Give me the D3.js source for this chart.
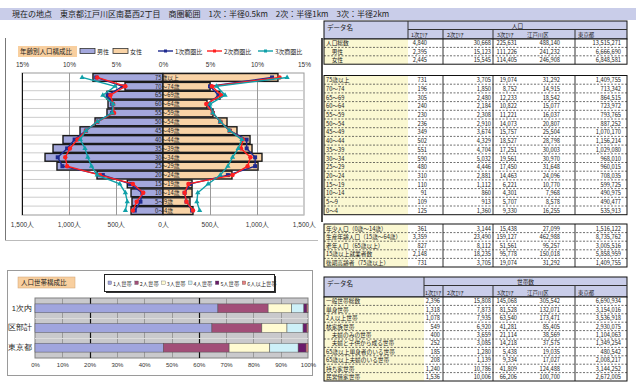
<!DOCTYPE html>
<html>
<head>
<meta charset="utf-8">
<script src="https://cdn.jsdelivr.net/npm/d3@7"></script>
<style>
body { margin: 0; background: #fff; }
svg { display: block; font-family: "Noto Sans CJK JP", "Noto Sans", sans-serif; }
</style>
</head>
<body>
<svg id="chart" width="640" height="384"></svg>
<script>
// ---- data ----
var titleText = "現在の地点　東京都江戸川区南葛西2丁目　商圏範囲　1次：半径0.5km　2次：半径1km　3次：半径2km";

var ageGroups = ["75歳以上","70～74歳","65～69歳","60～64歳","55～59歳","50～54歳","45～49歳","40～44歳",
                 "35～39歳","30～34歳","25～29歳","20～24歳","15～19歳","10～14歳","5～9歳","0～4歳"];
var maleCount   = [745, 404, 596, 585, 596, 723, 883, 1064, 1170, 1255, 1128, 702, 380, 340, 330, 340];
var femaleCount = [1223, 500, 606, 468, 532, 681, 787, 926, 947, 1053, 1011, 734, 309, 309, 287, 319];

var male1   = [7.1, 4.3, 5.9, 5.4, 5.4, 7.0, 8.2, 9.4, 10.2, 11.2, 10.7, 6.4, 3.5, 2.2, 2.4, 3.0];
var male2   = [7.0, 4.0, 5.6, 5.3, 5.2, 7.0, 8.2, 9.1, 9.9, 10.4, 10.2, 6.7, 3.2, 2.1, 2.8, 3.2];
var male3   = [8.6, 5.1, 6.4, 5.3, 5.4, 7.0, 8.2, 8.8, 8.3, 8.0, 7.6, 7.0, 4.6, 4.0, 3.8, 4.0];
var female1 = [11.6, 5.0, 5.9, 4.8, 5.3, 6.1, 7.1, 8.9, 8.9, 9.8, 9.8, 6.9, 2.9, 2.3, 2.5, 3.1];
var female2 = [12.4, 5.2, 6.2, 4.6, 5.3, 6.1, 7.1, 8.5, 8.3, 9.3, 9.0, 7.4, 2.7, 2.3, 2.5, 3.2];
var female3 = [13.2, 5.7, 6.6, 5.0, 5.3, 6.1, 7.1, 8.4, 8.0, 7.4, 6.9, 6.1, 4.8, 3.7, 3.6, 3.9];
var lineNames = ["1次商圏比", "2次商圏比", "3次商圏比"];
var pctTicks = [-15, -10, -5, 0, 5, 10, 15];
var cntTicks = [-1500, -1000, -500, 0, 500, 1000, 1500];

var hhAreas  = ["1次内", "区部計", "東京都"];
var hhSeries = ["1人世帯", "2人世帯", "3人世帯", "4人世帯", "5人世帯", "6人以上世帯"];
var hhShare1 = [67.0, 18.4, 8.6, 4.5, 1.1, 0.4];
var hhShare2 = [64.8, 18.3, 9.2, 5.9, 1.4, 0.4];
var hhShare3 = [47.0, 24.1, 14.9, 10.4, 2.9, 0.7];
var hhTicks  = [0, 10, 20, 30, 40, 50, 60, 70, 80, 90, 100];

var colHeads = ["1次ｴﾘｱ", "2次ｴﾘｱ", "3次ｴﾘｱ", "江戸川区", "東京都"];

var popLabels = ["人口総数", "　男性", "　女性"];
var popRows = [
  ["4,840", "30,668", "225,631", "488,140", "13,515,271"],
  ["2,395", "15,123", "111,226", "241,232", "6,666,690"],
  ["2,445", "15,545", "114,405", "246,908", "6,848,581"]
];

var ageLabels = ["75歳以上","70～74","65～69","60～64","55～59","50～54","45～49","40～44",
                 "35～39","30～34","25～29","20～24","15～19","10～14","5～9","0～4"];
var ageRows = [
  ["731", "3,705", "19,074", "31,292", "1,409,755"],
  ["196", "1,850", "8,752", "14,915", "713,342"],
  ["305", "2,480", "12,233", "18,542", "864,515"],
  ["240", "2,184", "10,822", "15,077", "723,972"],
  ["230", "2,308", "11,221", "16,037", "793,765"],
  ["236", "2,910", "14,073", "20,807", "887,252"],
  ["349", "3,674", "15,757", "25,504", "1,070,170"],
  ["502", "4,329", "18,527", "28,798", "1,156,214"],
  ["551", "4,704", "17,251", "30,003", "1,029,080"],
  ["590", "5,032", "19,561", "30,970", "968,010"],
  ["480", "4,446", "17,450", "31,648", "960,015"],
  ["310", "2,881", "14,463", "24,096", "708,035"],
  ["110", "1,112", "6,221", "10,770", "599,725"],
  ["91", "860", "4,301", "7,968", "490,975"],
  ["109", "913", "5,707", "8,578", "490,477"],
  ["125", "1,360", "9,330", "16,255", "535,913"]
];

var sumLabels = ["年少人口（0歳～14歳）", "生産年齢人口（15歳～64歳）", "老年人口（65歳以上）", "15歳以上就業者数", "後期高齢者（75歳以上）"];
var sumRows = [
  ["361", "3,144", "15,438", "27,099", "1,516,122"],
  ["3,359", "23,490", "159,127", "462,988", "8,735,762"],
  ["827", "8,112", "51,561", "95,257", "3,005,516"],
  ["2,148", "18,235", "95,778", "150,018", "5,858,959"],
  ["731", "3,705", "19,074", "31,292", "1,409,755"]
];

var hhLabels = ["一般世帯総数", "単身世帯", "2人以上世帯", "核家族世帯", "　夫婦のみの世帯", "　夫婦と子供から成る世帯",
                "65歳以上単身者のいる世帯", "65歳以上夫婦のいる世帯", "持ち家世帯", "民営借家世帯"];
var hhRows = [
  ["2,396", "15,808", "145,068", "305,542", "6,690,934"],
  ["1,318", "7,873", "81,528", "132,071", "3,154,016"],
  ["1,078", "7,935", "63,540", "173,471", "3,536,918"],
  ["549", "6,920", "41,281", "85,405", "2,930,075"],
  ["400", "3,659", "21,114", "38,569", "1,104,063"],
  ["252", "3,085", "14,218", "37,575", "1,349,254"],
  ["185", "1,280", "5,438", "19,035", "480,542"],
  ["208", "1,139", "9,334", "17,027", "2,008,217"],
  ["1,240", "10,786", "41,809", "124,488", "3,144,252"],
  ["1,536", "10,006", "66,206", "100,700", "2,672,005"]
];

// ---- colours ----
var maleFill = "#a3a7dc", femaleFill = "#f9d3a6";
var lineColors = ["#1f2a8f", "#ff2020", "#10a0a8"];
var hhColors = ["#a0a5de", "#a24e78", "#fffbd2", "#cdf0f8", "#6b1a6b", "#e88080"];
var FS = 6.5, TFS = 5.7;

var svg = d3.select("#chart");

// ---- title bar ----
svg.append("rect").attr("x", 0).attr("y", 8).attr("width", 636).attr("height", 12).attr("fill", "#c9cde9");
svg.append("text").attr("x", 12).attr("y", 17.3).attr("font-size", 8).attr("fill", "#222").text(titleText);

// ---- pyramid panel ----
svg.append("line").attr("x1", 5.5).attr("x2", 5.5).attr("y1", 38).attr("y2", 240).attr("stroke", "#777");
svg.append("line").attr("x1", 5).attr("x2", 318).attr("y1", 240.5).attr("y2", 240.5).attr("stroke", "#bbb");
svg.append("line").attr("x1", 322).attr("x2", 322).attr("y1", 38).attr("y2", 222).attr("stroke", "#111").attr("stroke-width", 1.5);

var xPct = d3.scaleLinear().domain([-15, 15]).range([22, 304]);
var xCnt = d3.scaleLinear().domain([-1500, 1500]).range([22, 304]);
var yAge = d3.scaleBand().domain(ageGroups).range([73, 215]).paddingInner(0.12).paddingOuter(0.06);

var pyr = svg.append("g");
pyr.append("rect").attr("x", 22).attr("y", 73).attr("width", 282).attr("height", 142)
  .attr("fill", "#fff").attr("stroke", "#999");
// row lines
pyr.selectAll(".rowline").data(ageGroups).enter().append("line")
  .attr("x1", 22).attr("x2", 304)
  .attr("y1", function(d) { return yAge(d) + yAge.bandwidth() + 0.5; })
  .attr("y2", function(d) { return yAge(d) + yAge.bandwidth() + 0.5; })
  .attr("stroke", "#ccc");
// vertical grid
pyr.selectAll(".vgrid").data([-1000, -500, 500, 1000]).enter().append("line")
  .attr("x1", function(d) { return Math.round(xCnt(d)) + 0.5; })
  .attr("x2", function(d) { return Math.round(xCnt(d)) + 0.5; })
  .attr("y1", 73).attr("y2", 215).attr("stroke", "#9a9a9a");
pyr.append("line").attr("x1", 22.5).attr("x2", 22.5).attr("y1", 73).attr("y2", 215).attr("stroke", "#111");

// bars
pyr.selectAll(".male").data(ageGroups).enter().append("rect")
  .attr("x", function(d, i) { return xCnt(-maleCount[i]); })
  .attr("y", function(d) { return yAge(d); })
  .attr("width", function(d, i) { return xCnt(0) - xCnt(-maleCount[i]); })
  .attr("height", yAge.bandwidth())
  .attr("fill", maleFill).attr("stroke", "#1a1a1a").attr("stroke-width", 1.4);
pyr.selectAll(".female").data(ageGroups).enter().append("rect")
  .attr("x", xCnt(0))
  .attr("y", function(d) { return yAge(d); })
  .attr("width", function(d, i) { return xCnt(femaleCount[i]) - xCnt(0); })
  .attr("height", yAge.bandwidth())
  .attr("fill", femaleFill).attr("stroke", "#1a1a1a").attr("stroke-width", 1.4);

// age labels
pyr.selectAll(".agelab").data(ageGroups).enter().append("text")
  .attr("x", xCnt(0) - 8)
  .attr("y", function(d) { return yAge(d) + yAge.bandwidth() / 2 + 2.2; })
  .attr("font-size", 5.8).attr("fill", "#222")
  .text(function(d) { return d; });

// lines
var yMid = function(i) { return yAge(ageGroups[i]) + yAge.bandwidth() / 2; };
var sets = [[male1, female1], [male2, female2], [male3, female3]];
sets.forEach(function(pair, k) {
  [-1, 1].forEach(function(side, s) {
    var vals = pair[s];
    var line = d3.line()
      .x(function(v) { return xPct(side * v); })
      .y(function(v, i) { return yMid(i); });
    pyr.append("path").datum(vals).attr("d", line)
      .attr("fill", "none").attr("stroke", lineColors[k]).attr("stroke-width", 1.4);
    var pts = pyr.selectAll(null).data(vals).enter();
    if (k === 0) {
      pts.append("rect")
        .attr("x", function(v) { return xPct(side * v) - 2; })
        .attr("y", function(v, i) { return yMid(i) - 2; })
        .attr("width", 4).attr("height", 4).attr("fill", lineColors[k]);
    } else if (k === 1) {
      pts.append("circle")
        .attr("cx", function(v) { return xPct(side * v); })
        .attr("cy", function(v, i) { return yMid(i); })
        .attr("r", 2.2).attr("fill", lineColors[k]);
    } else {
      pts.append("path")
        .attr("d", d3.symbol().type(d3.symbolTriangle).size(12))
        .attr("transform", function(v, i) { return "translate(" + xPct(side * v) + "," + yMid(i) + ")"; })
        .attr("fill", lineColors[k]);
    }
  });
});

// axes
var topAxis = d3.axisTop(xPct).tickValues(pctTicks).tickSize(0)
  .tickFormat(function(d) { return Math.abs(d) + "%"; });
var gTop = svg.append("g").attr("transform", "translate(0,70)").call(topAxis);
var botAxis = d3.axisBottom(xCnt).tickValues(cntTicks).tickSize(0)
  .tickFormat(function(d) { return d3.format(",")(Math.abs(d)) + "人"; });
var gBot = svg.append("g").attr("transform", "translate(0,219)").call(botAxis);
[gTop, gBot].forEach(function(g) {
  g.select(".domain").remove();
  g.selectAll("text").attr("font-size", FS).attr("fill", "#333").attr("font-family", null);
});

// legend
svg.append("rect").attr("x", 18).attr("y", 46).attr("width", 59).attr("height", 11).attr("fill", "#f8cf9f");
svg.append("text").attr("x", 20).attr("y", 54).attr("font-size", 6.5).attr("fill", "#222").text("年齢別人口構成比");
[["男性", maleFill, 80], ["女性", femaleFill, 113]].forEach(function(d) {
  svg.append("rect").attr("x", d[2]).attr("y", 48.5).attr("width", 15).attr("height", 5)
    .attr("fill", d[1]).attr("stroke", "#333").attr("stroke-width", 0.8);
  svg.append("text").attr("x", d[2] + 17).attr("y", 54).attr("font-size", 6).attr("fill", "#222").text(d[0]);
});
[158, 207, 258].forEach(function(x, k) {
  svg.append("line").attr("x1", x).attr("x2", x + 15).attr("y1", 51).attr("y2", 51)
    .attr("stroke", lineColors[k]).attr("stroke-width", 1.4);
  svg.append("rect").attr("x", x + 6).attr("y", 49.5).attr("width", 3).attr("height", 3).attr("fill", lineColors[k]);
  svg.append("text").attr("x", x + 17).attr("y", 53.5).attr("font-size", 6).attr("fill", "#222").text(lineNames[k]);
});

// ---- household stacked bar panel ----
svg.append("rect").attr("x", 7.5).attr("y", 270.5).attr("width", 305).attr("height", 105)
  .attr("fill", "#fff").attr("stroke", "#9a9a9a");
svg.append("rect").attr("x", 18).attr("y", 277).attr("width", 57).attr("height", 11).attr("fill", "#f8cf9f")
  .attr("stroke", "#d0a070").attr("stroke-width", 0.5);
svg.append("text").attr("x", 21).attr("y", 285).attr("font-size", 6.5).attr("fill", "#222").text("人口世帯構成比");

var xHH = d3.scaleLinear().domain([0, 100]).range([35, 308]);
var yHH = d3.scaleBand().domain(hhAreas).range([298, 358]).paddingInner(0.55).paddingOuter(0.3);
var hhData = [hhShare1, hhShare2, hhShare3];

svg.append("rect").attr("x", 35).attr("y", 298).attr("width", 273).attr("height", 60)
  .attr("fill", "#c9c9cc").attr("stroke", "#808080");
svg.selectAll(".hhv").data(hhTicks.slice(1, -1)).enter().append("line")
  .attr("x1", function(d) { return Math.round(xHH(d)) + 0.5; })
  .attr("x2", function(d) { return Math.round(xHH(d)) + 0.5; })
  .attr("y1", 298).attr("y2", 358)
  .attr("stroke", function(d) { return (d === 20 || d === 60) ? "#111" : "#9a9a9a"; })
  .attr("stroke-width", function(d) { return (d === 20 || d === 60) ? 1.2 : 1; });
svg.selectAll(".hhh").data([318, 338]).enter().append("line")
  .attr("x1", 35).attr("x2", 308).attr("y1", function(d) { return d + 0.5; }).attr("y2", function(d) { return d + 0.5; })
  .attr("stroke", "#dcdcdc");

hhAreas.forEach(function(area, a) {
  var acc = 0;
  hhData[a].forEach(function(v, s) {
    svg.append("rect")
      .attr("x", xHH(acc)).attr("y", yHH(area))
      .attr("width", xHH(acc + v) - xHH(acc)).attr("height", yHH.bandwidth())
      .attr("fill", hhColors[s]).attr("stroke", "#555").attr("stroke-width", 0.5);
    acc += v;
  });
});

var hhAxis = d3.axisBottom(xHH).tickValues(hhTicks).tickSize(0)
  .tickFormat(function(d) { return d + "%"; });
var gHH = svg.append("g").attr("transform", "translate(0,360)").call(hhAxis);
gHH.select(".domain").remove();
gHH.selectAll("text").attr("font-size", 6).attr("fill", "#333").attr("font-family", null);

var hhLeft = d3.axisLeft(yHH).tickSize(0).tickPadding(3);
var gHL = svg.append("g").attr("transform", "translate(35,0)").call(hhLeft);
gHL.select(".domain").remove();
gHL.selectAll("text").attr("font-size", 7.5).attr("fill", "#222").attr("font-family", null);

// legend box
svg.append("rect").attr("x", 106).attr("y", 276).attr("width", 170).attr("height", 17)
  .attr("fill", "#333");
svg.append("rect").attr("x", 104.5).attr("y", 274.5).attr("width", 170).attr("height", 17)
  .attr("fill", "#fff").attr("stroke", "#222");
var lx = 108;
hhSeries.forEach(function(name, s) {
  svg.append("rect").attr("x", lx).attr("y", 281).attr("width", 3.5).attr("height", 3.5)
    .attr("fill", hhColors[s]).attr("stroke", "#444").attr("stroke-width", 0.3);
  var t = svg.append("text").attr("x", lx + 5).attr("y", 285.5).attr("font-size", 5.3).attr("fill", "#222").text(name);
  lx += 5 + t.node().getComputedTextLength() + 3;
});

// ---- tables ----
var tL = 324, tR = 627;
var vLines = [443, 493, 575];
var popTable = { labR: 408, colRight: [427, 491, 517, 560, 621], hx: [411, 447, 497, 527, 578] };
var hhTable  = { labR: 424, colRight: [440, 491, 517, 560, 621], hx: [425, 447, 497, 527, 578] };

// shrink a label so it stays inside its cell
function fitText(t, maxW) {
  var w = t.node().getComputedTextLength();
  if (w > maxW) t.attr("textLength", maxW).attr("lengthAdjust", "spacingAndGlyphs");
}

function drawHeader(cfg, y0, y1, group) {
  var g = svg.append("g");
  g.append("rect").attr("x", tL).attr("y", y0).attr("width", tR - tL).attr("height", y1 - y0)
    .attr("fill", "#c9cde9").attr("stroke", "#111");
  g.append("line").attr("x1", cfg.labR).attr("x2", tR).attr("y1", y0 + 8.5).attr("y2", y0 + 8.5).attr("stroke", "#333");
  g.append("line").attr("x1", cfg.labR).attr("x2", cfg.labR).attr("y1", y0).attr("y2", y1).attr("stroke", "#333");
  vLines.forEach(function(x) {
    g.append("line").attr("x1", x).attr("x2", x).attr("y1", y0 + 8.5).attr("y2", y1).attr("stroke", "#333");
  });
  g.append("text").attr("x", tL + 3).attr("y", y0 + 9).attr("font-size", FS).attr("fill", "#222").text("データ名");
  g.append("text").attr("x", (cfg.labR + tR) / 2).attr("y", y0 + 7).attr("text-anchor", "middle")
    .attr("font-size", TFS).attr("fill", "#222").text(group);
  colHeads.forEach(function(h, i) {
    var t = g.append("text").attr("x", cfg.hx[i]).attr("y", y1 - 2.5).attr("font-size", 5.4).attr("fill", "#222").text(h);
    if (i === 0) fitText(t, 443 - cfg.hx[0] - 2);
  });
}

function drawBlock(cfg, y0, rowH, labels, rows) {
  var g = svg.append("g");
  var h = rowH * labels.length;
  g.append("rect").attr("x", tL).attr("y", y0).attr("width", tR - tL).attr("height", h).attr("fill", "#fff");
  g.append("rect").attr("x", tL).attr("y", y0).attr("width", cfg.labR - tL).attr("height", h).attr("fill", "#fbf8d2");
  labels.forEach(function(lab, r) {
    var y = y0 + rowH * (r + 1);
    if (r < labels.length - 1) {
      g.append("line").attr("x1", tL).attr("x2", tR).attr("y1", y).attr("y2", y)
        .attr("stroke", "#333").attr("stroke-width", 0.7).attr("stroke-dasharray", "2,1.5");
    }
    var t = g.append("text").attr("x", tL + 2).attr("y", y - 2).attr("font-size", TFS).attr("fill", "#222").text(lab);
    var firstVal = rows[r][0];
    fitText(t, cfg.colRight[0] - tL - 5 - firstVal.length * 3.3);
    rows[r].forEach(function(v, c) {
      g.append("text").attr("x", cfg.colRight[c]).attr("y", y - 2).attr("text-anchor", "end")
        .attr("font-size", TFS).attr("fill", "#222").text(v);
    });
  });
  vLines.forEach(function(x) {
    g.append("line").attr("x1", x).attr("x2", x).attr("y1", y0).attr("y2", y0 + h).attr("stroke", "#333");
  });
  g.append("rect").attr("x", tL).attr("y", y0).attr("width", tR - tL).attr("height", h)
    .attr("fill", "none").attr("stroke", "#111");
}

drawHeader(popTable, 21, 39, "人口");
drawBlock(popTable, 39, 8.4, popLabels, popRows);
drawBlock(popTable, 75.5, 8.7, ageLabels, ageRows);
drawBlock(popTable, 224, 8.6, sumLabels, sumRows);
drawHeader(hhTable, 277, 297, "世帯数");
drawBlock(hhTable, 297, 8.4, hhLabels, hhRows);
</script>
</body>
</html>
